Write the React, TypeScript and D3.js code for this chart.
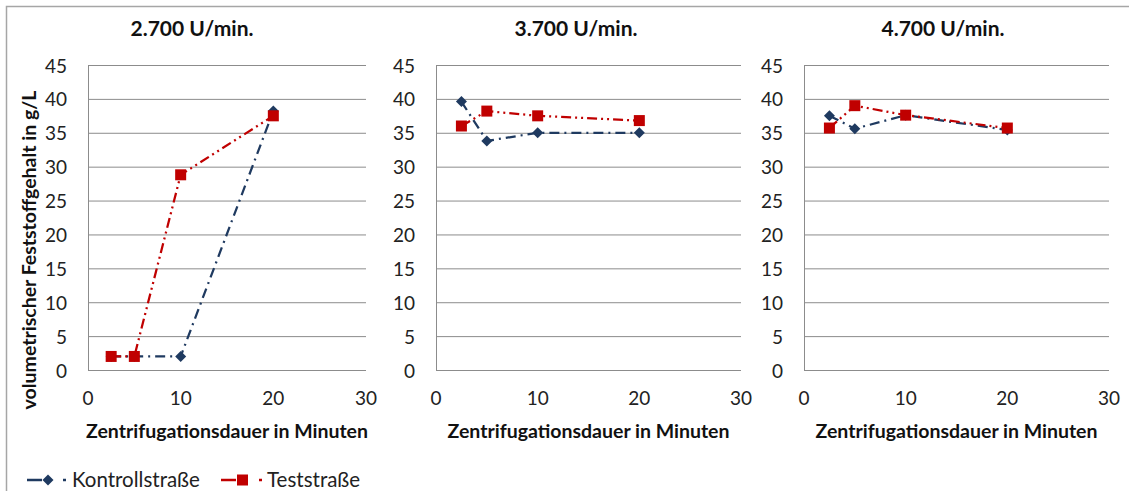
import React from "react";
import * as d3 from "d3";

// Centrifugation duration (minutes) sampled for every run
const durations = [2.5, 5, 10, 20];

// Panel headings (rotor speed)
const speeds = ["2.700 U/min.", "3.700 U/min.", "4.700 U/min."];

// Solid content in g/L, one array per speed
const kontroll2700 = [2, 2, 2, 38.2];
const test2700 = [2, 2, 28.8, 37.5];
const kontroll3700 = [39.6, 33.8, 35, 35];
const test3700 = [36, 38.2, 37.5, 36.8];
const kontroll4700 = [37.5, 35.6, 37.6, 35.4];
const test4700 = [35.7, 39, 37.6, 35.7];

const xTicks = [0, 10, 20, 30];
const yTicks = [0, 5, 10, 15, 20, 25, 30, 35, 40, 45];

const seriesNames = ["Kontrollstraße", "Teststraße"];

const W = 1129;
const H = 491;
const FONT = "Lato, 'Open Sans', sans-serif";
const BLUE = "#1f3a60";
const RED = "#c00000";
const GRID = "#8c8c8c";

const panels = [
  { title: speeds[0], left: 88, right: 366, titleX: 192, kontroll: kontroll2700, test: test2700 },
  { title: speeds[1], left: 436, right: 741, titleX: 576, kontroll: kontroll3700, test: test3700 },
  { title: speeds[2], left: 804, right: 1109, titleX: 943, kontroll: kontroll4700, test: test4700 },
];

const yScale = d3.scaleLinear().domain([0, 45]).range([370, 65]);

function Diamond({ x, y, r, fill }: { x: number; y: number; r: number; fill: string }) {
  return <path d={`M${x},${y - r}L${x + r},${y}L${x},${y + r}L${x - r},${y}Z`} fill={fill} />;
}

function Panel({ p }: { p: (typeof panels)[number] }) {
  const x = d3.scaleLinear().domain([0, 30]).range([p.left, p.right]);
  const line = d3
    .line<number>()
    .x((_, i) => x(durations[i]))
    .y((v) => yScale(v));
  return (
    <g>
      <text
        x={p.titleX}
        y={27}
        textAnchor="middle"
        dominantBaseline="central"
        fontFamily={FONT}
        fontWeight="bold"
        fontSize={21}
        fill="#111"
      >
        {p.title}
      </text>
      {yTicks.map((t) => (
        <g key={t}>
          <line x1={p.left} x2={p.right} y1={yScale(t) + 0.5} y2={yScale(t) + 0.5} stroke={GRID} strokeWidth={1} />
          <text
            x={p.left - 21}
            y={yScale(t)}
            textAnchor="end"
            dominantBaseline="central"
            fontFamily={FONT}
            fontSize={19}
            fill="#222"
          >
            {t}
          </text>
        </g>
      ))}
      <line x1={p.left + 0.5} x2={p.left + 0.5} y1={yScale(45)} y2={yScale(0) + 0.5} stroke={GRID} strokeWidth={1} />
      {xTicks.map((t) => (
        <text
          key={t}
          x={x(t)}
          y={397}
          textAnchor="middle"
          dominantBaseline="central"
          fontFamily={FONT}
          fontSize={19}
          fill="#222"
        >
          {t}
        </text>
      ))}
      <text
        x={(p.left + p.right) / 2}
        y={430}
        textAnchor="middle"
        dominantBaseline="central"
        fontFamily={FONT}
        fontWeight="bold"
        fontSize={19.5}
        fill="#111"
      >
        Zentrifugationsdauer in Minuten
      </text>
      <path d={line(p.kontroll) ?? ""} fill="none" stroke={BLUE} strokeWidth={2.25} strokeDasharray="10,5,2,5" />
      <path d={line(p.test) ?? ""} fill="none" stroke={RED} strokeWidth={2.25} strokeDasharray="10,4,2,4,2,4" />
      {p.kontroll.map((v, i) => (
        <Diamond key={`k${i}`} x={x(durations[i])} y={yScale(v)} r={5.5} fill={BLUE} />
      ))}
      {p.test.map((v, i) => (
        <rect key={`t${i}`} x={x(durations[i]) - 5.5} y={yScale(v) - 5.5} width={11} height={11} fill={RED} />
      ))}
    </g>
  );
}

export default function App() {
  return (
    <svg
      width={W}
      height={H}
      style={{ position: "absolute", left: 0, top: 0, background: "#fff" }}
    >
      <rect x={0} y={0} width={W} height={H} fill="#fff" />
      <rect x={6.5} y={6.5} width={W + 10} height={H + 10} fill="none" stroke="#a6a6a6" strokeWidth={1.5} />
      <text
        transform="translate(28,250) rotate(-90)"
        textAnchor="middle"
        dominantBaseline="central"
        fontFamily={FONT}
        fontWeight="bold"
        fontSize={19.5}
        fill="#111"
      >
        volumetrischer Feststoffgehalt in g/L
      </text>
      {panels.map((p, i) => (
        <Panel key={i} p={p} />
      ))}
      {/* legend */}
      <g>
        <line x1={27} x2={42} y1={480} y2={480} stroke={BLUE} strokeWidth={2.5} />
        <Diamond x={48} y={480} r={5.5} fill={BLUE} />
        <line x1={63} x2={66} y1={480} y2={480} stroke={BLUE} strokeWidth={2.5} />
        <text x={72} y={479} dominantBaseline="central" fontFamily={FONT} fontSize={20.5} fill="#222">
          {seriesNames[0]}
        </text>
        <line x1={221} x2={236} y1={480} y2={480} stroke={RED} strokeWidth={2.5} />
        <rect x={237} y={474.5} width={11} height={11} fill={RED} />
        <line x1={259} x2={262} y1={480} y2={480} stroke={RED} strokeWidth={2.5} />
        <text x={267} y={479} dominantBaseline="central" fontFamily={FONT} fontSize={20.5} fill="#222">
          {seriesNames[1]}
        </text>
      </g>
    </svg>
  );
}
